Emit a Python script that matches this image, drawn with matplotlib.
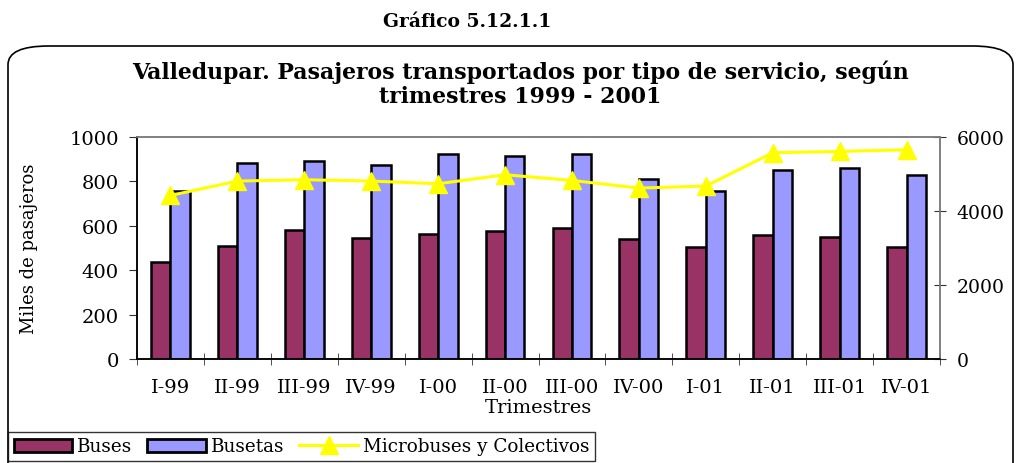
import numpy as np
import matplotlib.pyplot as plt
from matplotlib.patches import FancyBboxPatch, Patch
from matplotlib.lines import Line2D

# data
trimestres = ['I-99', 'II-99', 'III-99', 'IV-99', 'I-00', 'II-00',
              'III-00', 'IV-00', 'I-01', 'II-01', 'III-01', 'IV-01']
buses = [439, 510, 579, 547, 562, 576, 592, 541, 504, 559, 550, 504]
busetas = [759, 884, 892, 875, 925, 914, 925, 810, 758, 853, 860, 827]
micro_colectivos = [4420, 4809, 4845, 4809, 4736, 4980, 4826, 4620, 4674, 5575, 5610, 5656]

W, H = 1017, 464
plt.rcParams['font.family'] = 'DejaVu Serif'

fig = plt.figure(figsize=(W / 100, H / 100), dpi=100)

# rounded frame around the chart (bottom runs off the image)
frame = FancyBboxPatch((8 / W, -60 / H), (W - 12) / W, (H - 47 + 60) / H,
                       boxstyle='round,pad=0,rounding_size=0.04', transform=fig.transFigure,
                       facecolor='none', edgecolor='black', linewidth=1.2, zorder=-1)
fig.patches.append(frame)

fig.text(467 / W, 1 - 22 / H, 'Gráfico 5.12.1.1', ha='center', va='center',
         fontsize=13.5, fontweight='bold')
fig.text(520 / W, 1 - 72 / H, 'Valledupar. Pasajeros transportados por tipo de servicio, según',
         ha='center', va='center', fontsize=15.8, fontweight='bold')
fig.text(520 / W, 1 - 97 / H, 'trimestres 1999 - 2001',
         ha='center', va='center', fontsize=15.8, fontweight='bold')

ax = fig.add_axes([137 / W, 1 - 360 / H, (940 - 137) / W, (360 - 138) / H])
ax.set_facecolor('white')
x = np.arange(len(trimestres))
bw = 0.29
ax.bar(x - bw / 2, buses, bw, color='#993366', edgecolor='black', linewidth=1.8, zorder=2)
ax.bar(x + bw / 2, busetas, bw, color='#9999FF', edgecolor='black', linewidth=1.8, zorder=2)
ax.set_xlim(-0.5, len(trimestres) - 0.5)
ax.set_ylim(0, 1000)
ax.set_yticks([0, 200, 400, 600, 800, 1000])
ax.set_xticks(x)
ax.set_xticklabels(trimestres, fontsize=14)
ax.set_xticks(np.arange(len(trimestres) + 1) - 0.5, minor=True)
ax.tick_params(axis='x', which='major', length=0, pad=14)
ax.tick_params(axis='x', which='minor', length=8, direction='inout', color='#333333')
ax.tick_params(axis='y', labelsize=14, length=6, color='#333333', pad=7)
ax.set_xlabel('Trimestres', fontsize=14, labelpad=1)
ax.set_ylabel('Miles de pasajeros', fontsize=13)
ax.yaxis.set_label_coords(-(137 - 38) / (940 - 137), 0.5)
for s in ['top', 'right']:
    ax.spines[s].set_color('#808080')
ax.spines['left'].set_color('#333333')
ax.spines['bottom'].set_color('#333333')
for s in ax.spines.values():
    s.set_linewidth(1.2)

ax2 = ax.twinx()
ax2.plot(x, micro_colectivos, color='#FFFF00', linewidth=2.2, marker='^',
         markersize=13, markerfacecolor='#FFFF00', markeredgecolor='#FFFF00', zorder=3)
ax2.set_ylim(0, 6000)
ax2.set_yticks([0, 2000, 4000, 6000])
ax2.tick_params(axis='y', labelsize=13.5, length=8, direction='inout', color='#333333', pad=8)
ax2.spines['right'].set_color('#808080')
ax2.spines['top'].set_color('#808080')
for s in ax2.spines.values():
    s.set_linewidth(1.2)

handles = [Patch(facecolor='#993366', edgecolor='black', linewidth=2),
           Patch(facecolor='#9999FF', edgecolor='black', linewidth=2),
           Line2D([], [], color='#FFFF00', linewidth=2.2, marker='^', markersize=13)]
leg = fig.legend(handles, ['Buses', 'Busetas', 'Microbuses y Colectivos'],
                 loc='lower left', bbox_to_anchor=(8 / W, 2 / H), ncol=3,
                 fontsize=13.2, frameon=True, fancybox=False, borderpad=0.3,
                 handlelength=3.2, handleheight=0.7, handletextpad=0.28,
                 columnspacing=0.8, borderaxespad=0)
leg.get_frame().set_edgecolor('black')
leg.get_frame().set_linewidth(1.0)

fig.savefig('out.png', dpi=100)
